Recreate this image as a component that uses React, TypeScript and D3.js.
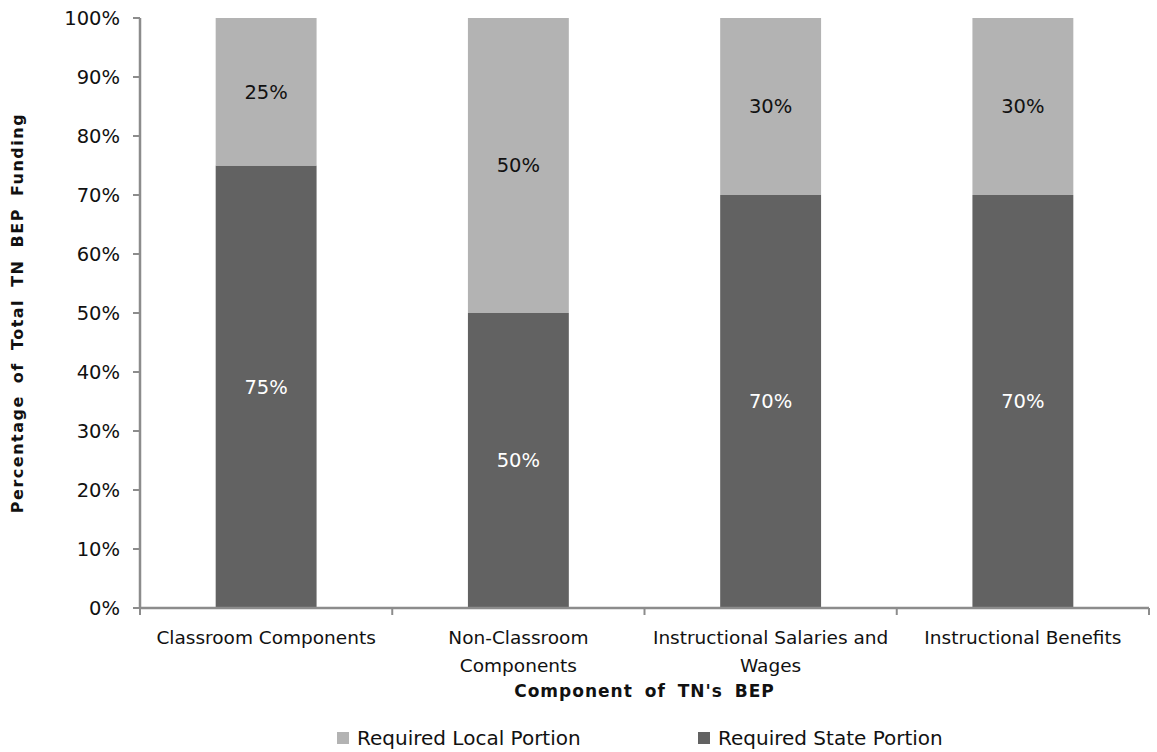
import React from "react";
import * as d3 from "d3";

const categories = [
  ["Classroom Components"],
  ["Non-Classroom", "Components"],
  ["Instructional Salaries and", "Wages"],
  ["Instructional Benefits"],
];
const statePortion = [75, 50, 70, 70];
const localPortion = [25, 50, 30, 30];
const yTicks = [0, 10, 20, 30, 40, 50, 60, 70, 80, 90, 100];

const LIGHT = "#b3b3b3";
const DARK = "#626262";
const AXIS = "#8c8c8c";
const FONT = "'DejaVu Sans', sans-serif";

export default function App() {
  const width = 1157;
  const height = 752;
  const m = { left: 140, right: 8, top: 18, bottom: 144 };
  const plotW = width - m.left - m.right;
  const plotH = height - m.top - m.bottom;

  const x = d3
    .scaleBand<number>()
    .domain(categories.map((_, i) => i))
    .range([m.left, m.left + plotW])
    .paddingInner(0.6)
    .paddingOuter(0.3);
  const step = plotW / categories.length;
  const y = d3.scaleLinear().domain([0, 100]).range([m.top + plotH, m.top]);

  const stack = categories.map((_, i) => [
    { y0: 0, y1: statePortion[i], fill: DARK, label: statePortion[i], text: "#fff" },
    { y0: statePortion[i], y1: statePortion[i] + localPortion[i], fill: LIGHT, label: localPortion[i], text: "#111" },
  ]);

  return (
    <svg width={width} height={height} style={{ position: "absolute", left: 0, top: 0 }} fontFamily={FONT}>
      {/* bars */}
      {stack.map((segs, i) =>
        segs.map((s, j) => (
          <g key={`${i}-${j}`}>
            <rect x={x(i)} y={y(s.y1)} width={x.bandwidth()} height={y(s.y0) - y(s.y1)} fill={s.fill} />
            <text
              x={(x(i) as number) + x.bandwidth() / 2}
              y={(y(s.y0) + y(s.y1)) / 2}
              dy="0.35em"
              textAnchor="middle"
              fontSize={19.5}
              fill={s.text}
            >
              {s.label}%
            </text>
          </g>
        ))
      )}

      {/* y axis */}
      <line x1={m.left} x2={m.left} y1={y(100)} y2={y(0)} stroke={AXIS} strokeWidth={2.5} />
      {yTicks.map((t) => (
        <g key={t}>
          <line x1={m.left - 7} x2={m.left} y1={y(t)} y2={y(t)} stroke={AXIS} strokeWidth={2} />
          <text x={m.left - 20} y={y(t)} dy="0.35em" textAnchor="end" fontSize={19.5} fill="#111">
            {t}%
          </text>
        </g>
      ))}

      {/* x axis */}
      <line x1={m.left} x2={m.left + plotW} y1={y(0)} y2={y(0)} stroke={AXIS} strokeWidth={2.5} />
      {d3.range(categories.length + 1).map((k) => (
        <line
          key={k}
          x1={m.left + k * step}
          x2={m.left + k * step}
          y1={y(0)}
          y2={y(0) + 7}
          stroke={AXIS}
          strokeWidth={2}
        />
      ))}
      {categories.map((lines, i) => (
        <text key={i} textAnchor="middle" fontSize={18.5} fill="#111">
          {lines.map((l, k) => (
            <tspan key={k} x={(x(i) as number) + x.bandwidth() / 2} y={y(0) + 36 + k * 28}>
              {l}
            </tspan>
          ))}
        </text>
      ))}

      {/* axis titles */}
      <text
        x={m.left + plotW / 2}
        y={697}
        textAnchor="middle"
        fontSize={17}
        fontWeight="bold"
        letterSpacing={1}
        wordSpacing={5}
        fill="#111"
      >
        Component of TN's BEP
      </text>
      <text
        transform={`translate(17, ${m.top + plotH / 2}) rotate(-90)`}
        dy="0.35em"
        textAnchor="middle"
        fontSize={16}
        fontWeight="bold"
        letterSpacing={1.5}
        wordSpacing={5}
        fill="#111"
      >
        Percentage of Total TN BEP Funding
      </text>

      {/* legend */}
      <rect x={337} y={732} width={12} height={12} fill={LIGHT} />
      <text x={357} y={738} dy="0.35em" fontSize={20} fill="#111">
        Required Local Portion
      </text>
      <rect x={698} y={732} width={12} height={12} fill={DARK} />
      <text x={718} y={738} dy="0.35em" fontSize={20} fill="#111">
        Required State Portion
      </text>
    </svg>
  );
}
